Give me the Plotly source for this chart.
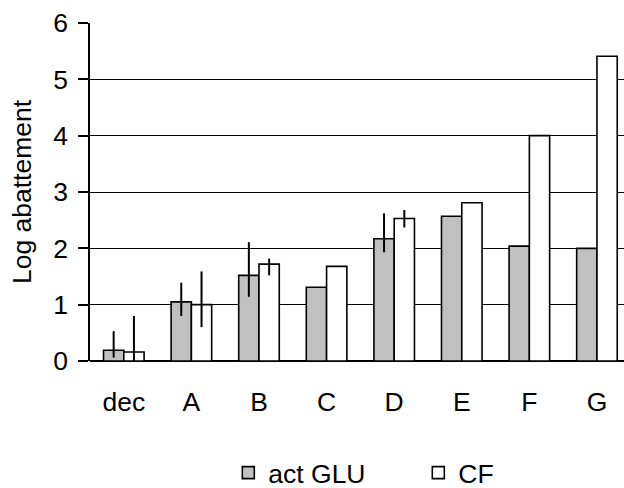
import plotly.graph_objects as go

categories = ["dec", "A", "B", "C", "D", "E", "F", "G"]
glu_values = [0.19, 1.05, 1.52, 1.31, 2.17, 2.57, 2.04, 2.0]
cf_values = [0.16, 1.0, 1.72, 1.68, 2.53, 2.81, 4.0, 5.41]
glu_err_plus = [0.34, 0.34, 0.59, 0, 0.45, 0, 0, 0]
glu_err_minus = [0.13, 0.25, 0.38, 0, 0.24, 0, 0, 0]
cf_err_plus = [0.64, 0.59, 0.10, 0, 0.15, 0, 0, 0]
cf_err_minus = [0.16, 0.40, 0.20, 0, 0.16, 0, 0, 0]
y_ticks = [0, 1, 2, 3, 4, 5, 6]

FONT = "Liberation Sans, Arial, sans-serif"
FS = 26.5

fig = go.Figure()
fig.add_trace(go.Bar(
    name="act GLU", x=categories, y=glu_values,
    marker=dict(color="#C0C0C0", line=dict(color="black", width=1.6)),
    error_y=dict(type="data", array=glu_err_plus, arrayminus=glu_err_minus,
                 symmetric=False, color="black", thickness=2, width=0),
))
fig.add_trace(go.Bar(
    name="CF", x=categories, y=cf_values,
    marker=dict(color="white", line=dict(color="black", width=1.6)),
    error_y=dict(type="data", array=cf_err_plus, arrayminus=cf_err_minus,
                 symmetric=False, color="black", thickness=2, width=0),
))

fig.update_layout(
    width=624, height=488,
    margin=dict(l=90, r=0, t=23, b=127),
    paper_bgcolor="white", plot_bgcolor="white",
    font=dict(family=FONT, size=FS, color="black"),
    barmode="group", bargap=0.4, bargroupgap=0,
    showlegend=True,
    legend=dict(orientation="h", xref="paper", yref="container",
                x=0.259, xanchor="left", y=0.031, yanchor="middle",
                entrywidth=145, entrywidthmode="pixels",
                font=dict(family=FONT, size=FS, color="black"),
                bgcolor="rgba(0,0,0,0)"),
    xaxis=dict(range=[-0.5, 7.4], showline=False, ticks="", showgrid=False,
               zeroline=False, ticklabelstandoff=22,
               tickfont=dict(family=FONT, size=FS, color="black")),
    yaxis=dict(range=[0, 6], tickvals=y_ticks, showgrid=True, gridcolor="black",
               gridwidth=1, showline=True, linecolor="black", linewidth=1.5,
               ticks="outside", ticklen=10, tickcolor="black", tickwidth=1.5,
               zeroline=True, zerolinecolor="black", zerolinewidth=1.5,
               ticklabelstandoff=5,
               title=dict(text="Log abattement", standoff=14,
                          font=dict(family=FONT, size=FS, color="black")),
               tickfont=dict(family=FONT, size=FS, color="black")),
)

fig.write_html("out.html")
